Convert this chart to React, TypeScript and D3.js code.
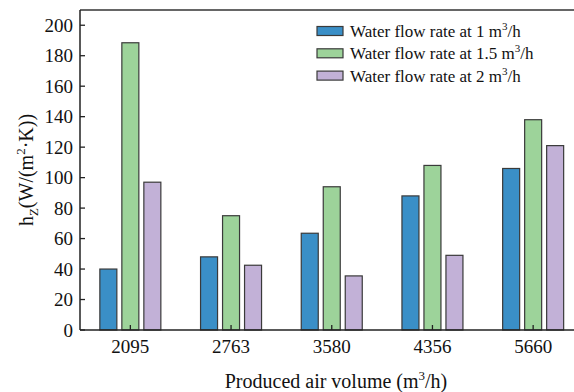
import * as d3 from "d3";

const CATEGORIES = ["2095", "2763", "3580", "4356", "5660"];
const SERIES = ["1", "1.5", "2"];
const FLOW_1 = [40, 48, 63.5, 88, 106];
const FLOW_15 = [188.5, 75, 94, 108, 138];
const FLOW_2 = [97, 42.5, 35.5, 49, 121];
const Y_TICKS = [0, 20, 40, 60, 80, 100, 120, 140, 160, 180, 200];

const COLORS = ["#3a8fc7", "#9dd39a", "#c2b1d7"];
const FONT = "Liberation Serif";

const W = 574;
const H = 392;
const left = 80;
const right = 583.5; // right spine falls just outside the picture
const top = 10;
const bottom = 330;

export default function App() {
  const values = [FLOW_1, FLOW_15, FLOW_2];

  const x = d3.scaleBand<string>().domain(CATEGORIES).range([left, right]);
  const xSub = d3.scaleBand<string>().domain(SERIES).range([-33, 33]);
  const y = d3.scaleLinear().domain([0, 210]).range([bottom, top]);
  const barW = 17;

  const legendX = 317;
  const legendY = 31;
  const legendStep = 22.3;

  return (
    <svg width={W} height={H} style={{ position: "absolute", left: 0, top: 0, background: "#fff" }}>
      {/* bars */}
      {SERIES.map((s, si) =>
        CATEGORIES.map((c, ci) => {
          const cx = (x(c) ?? 0) + x.bandwidth() / 2;
          const bx = cx + (xSub(s) ?? 0) + (xSub.bandwidth() - barW) / 2;
          return (
            <rect
              key={`${s}-${c}`}
              x={bx}
              y={y(values[si][ci])}
              width={barW}
              height={bottom - y(values[si][ci])}
              fill={COLORS[si]}
              stroke="#3a3a3a"
              strokeWidth={1.2}
            />
          );
        }),
      )}

      {/* frame */}
      <line x1={left} x2={right} y1={top} y2={top} stroke="#333" strokeWidth={1.4} />
      <line x1={left} x2={right} y1={bottom} y2={bottom} stroke="#222" strokeWidth={1.5} />
      <line x1={left} x2={left} y1={top} y2={bottom} stroke="#222" strokeWidth={1.5} />
      <line x1={right} x2={right} y1={top} y2={bottom} stroke="#222" strokeWidth={1.5} />

      {/* y ticks */}
      {Y_TICKS.map((t) => (
        <g key={t}>
          <line x1={left} x2={left + 5} y1={y(t)} y2={y(t)} stroke="#222" strokeWidth={1.3} />
          <text x={left - 7} y={y(t)} dy="0.35em" textAnchor="end" fontSize={19} fontFamily={FONT} fill="#111">
            {t}
          </text>
        </g>
      ))}

      {/* x ticks */}
      {CATEGORIES.map((c) => {
        const cx = (x(c) ?? 0) + x.bandwidth() / 2;
        return (
          <g key={c}>
            <line x1={cx} x2={cx} y1={bottom} y2={bottom - 5} stroke="#222" strokeWidth={1.3} />
            <text x={cx} y={353} textAnchor="middle" fontSize={19} fontFamily={FONT} fill="#111">
              {c}
            </text>
          </g>
        );
      })}

      {/* axis titles */}
      <text x={336} y={388} textAnchor="middle" fontSize={20} fontFamily={FONT} fill="#111">
        Produced air volume (m
        <tspan fontSize={13} dy={-8}>3</tspan>
        <tspan dy={8}>/h)</tspan>
      </text>
      <text
        transform={`translate(33,${(top + bottom) / 2}) rotate(-90)`}
        textAnchor="middle"
        fontSize={20}
        fontFamily={FONT}
        fill="#111"
      >
        h
        <tspan fontSize={13} dy={5}>Z</tspan>
        <tspan dy={-5}>(W/(m</tspan>
        <tspan fontSize={13} dy={-8}>2</tspan>
        <tspan dy={8}>·K))</tspan>
      </text>

      {/* legend */}
      {SERIES.map((s, si) => {
        const ly = legendY + si * legendStep;
        return (
          <g key={s}>
            <rect
              x={legendX}
              y={ly - 4.5}
              width={26}
              height={9}
              fill={COLORS[si]}
              stroke="#3a3a3a"
              strokeWidth={1.2}
            />
            <text x={legendX + 33} y={ly + 6} fontSize={17} fontFamily={FONT} fill="#111">
              Water flow rate at {s} m
              <tspan fontSize={11} dy={-7}>3</tspan>
              <tspan dy={7}>/h</tspan>
            </text>
          </g>
        );
      })}
    </svg>
  );
}
